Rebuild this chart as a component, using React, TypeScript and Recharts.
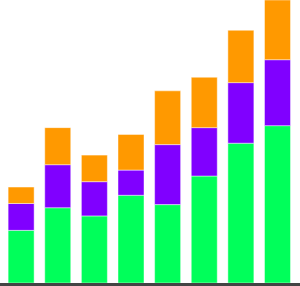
import React from 'react';
import { BarChart, Bar, XAxis, YAxis } from 'recharts';

const categories = ['1', '2', '3', '4', '5', '6', '7', '8'];
const greenValues = [18.6, 26.6, 23.7, 31.0, 27.7, 37.8, 49.4, 55.6];
const purpleValues = [9.5, 15.2, 12.1, 8.9, 21.2, 17.1, 21.4, 23.3];
const orangeValues = [5.8, 13.1, 9.4, 12.6, 19.0, 17.8, 18.5, 21.1];

const data = categories.map((c, i) => ({
  name: c,
  green: greenValues[i],
  purple: purpleValues[i],
  orange: orangeValues[i],
}));

const border = 'rgba(255,255,255,0.45)';

export default function App() {
  return (
    <div style={{ position: 'absolute', left: 0, top: 0 }}>
      <BarChart
        width={300}
        height={286}
        data={data}
        margin={{ top: 0, right: 0, bottom: 0, left: 0 }}
        barCategoryGap="14%"
      >
        <XAxis
          dataKey="name"
          height={3}
          tick={false}
          tickLine={false}
          padding={{ left: 3, right: 4 }}
          axisLine={{ stroke: '#444444', strokeWidth: 3, transform: 'translate(0,1.5)' }}
        />
        <YAxis hide domain={[0, 100]} />
        <Bar dataKey="green" stackId="a" fill="#00ff5a" stroke={border} strokeWidth={1} isAnimationActive={false} />
        <Bar dataKey="purple" stackId="a" fill="#8000ff" stroke={border} strokeWidth={1} isAnimationActive={false} />
        <Bar dataKey="orange" stackId="a" fill="#ff9900" stroke={border} strokeWidth={1} isAnimationActive={false} />
      </BarChart>
    </div>
  );
}
